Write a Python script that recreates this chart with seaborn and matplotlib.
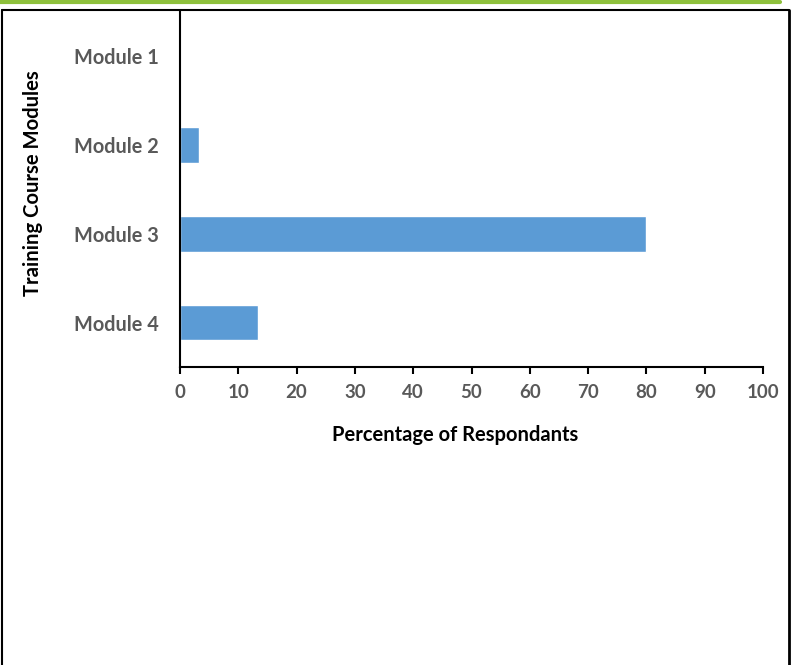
import matplotlib
matplotlib.use("Agg")
import matplotlib.pyplot as plt
import seaborn as sns
import pandas as pd
from matplotlib.lines import Line2D

modules = ["Module 1", "Module 2", "Module 3", "Module 4"]
percent = [0, 3.33, 80, 13.33]
xticks = [0, 10, 20, 30, 40, 50, 60, 70, 80, 90, 100]

df = pd.DataFrame({"module": modules, "percent": percent})

sns.set_style("white")
plt.rcParams["font.family"] = ["Lato", "DejaVu Sans"]

W, H = 791, 665
fig = plt.figure(figsize=(W / 100, H / 100), dpi=100)
ax = fig.add_axes([180 / W, 1 - 367 / H, (763 - 180) / W, (367 - 12) / H])

sns.barplot(data=df, x="percent", y="module", color="#5B9BD5", width=0.4,
            saturation=1, ax=ax)

ax.set_xlim(0, 100)
ax.set_xticks(xticks)
ax.tick_params(axis="x", bottom=True, direction="out", length=5, width=1.5,
               color="black", labelsize=13.5, labelcolor="#595959", pad=7)
ax.tick_params(axis="y", left=False, length=0, labelsize=14.3,
               labelcolor="#595959", pad=15)
for lab in ax.get_xticklabels() + ax.get_yticklabels():
    lab.set_fontweight("bold")

for s in ["top", "right"]:
    ax.spines[s].set_visible(False)
for s in ["left", "bottom"]:
    ax.spines[s].set_color("black")
    ax.spines[s].set_linewidth(1.5)

ax.set_xlabel("Percentage of Respondants", fontsize=14.5, fontweight="bold",
              color="black")
ax.xaxis.set_label_coords((455 - 180) / (763 - 180), -(435 - 367) / (367 - 12))
ax.xaxis.label.set_va("center")
ax.set_ylabel("Training Course Modules", fontsize=14.6, fontweight="bold",
              color="black")
ax.yaxis.set_label_coords(-(180 - 33) / (763 - 180), (367 - 183) / (367 - 12))
ax.yaxis.label.set_va("center")

# page frame and green rule
fx = lambda x: x / W
fy = lambda y: 1 - y / H
fig.add_artist(Line2D([fx(0), fx(780)], [fy(1.5), fy(1.5)], color="#8DC03B", lw=3))
fig.add_artist(Line2D([fx(1.5), fx(788.5)], [fy(9.5), fy(9.5)], color="black", lw=1.5))
fig.add_artist(Line2D([fx(1.5), fx(1.5)], [fy(9.5), fy(665)], color="black", lw=1.5))
fig.add_artist(Line2D([fx(788.5), fx(788.5)], [fy(9.5), fy(665)], color="black", lw=2))

fig.savefig("out.png", dpi=100)
